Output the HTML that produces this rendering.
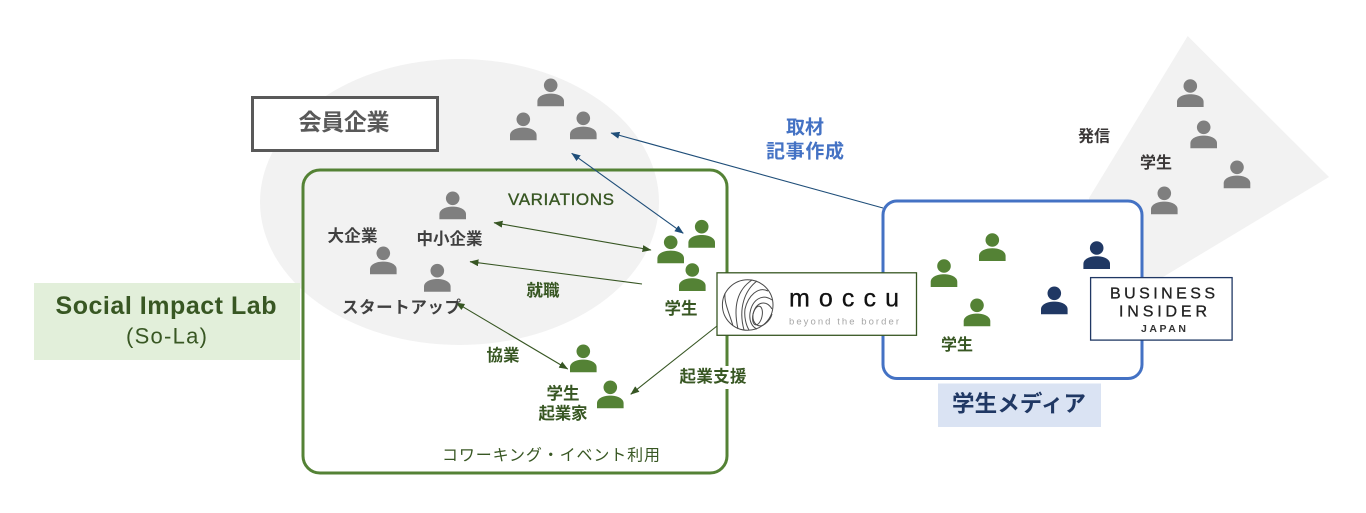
<!DOCTYPE html>
<html lang="ja">
<head>
<meta charset="utf-8">
<title>Social Impact Lab</title>
<style>
html,body{margin:0;padding:0;background:#fff;width:1366px;height:513px;overflow:hidden}
svg{display:block}
text{font-family:"Liberation Sans","Noto Sans CJK JP",sans-serif;text-anchor:middle;dominant-baseline:central}
.g{fill:#385723}
.k{fill:#404040}
.b{font-weight:bold}
</style>
</head>
<body>
<svg width="1366" height="513" viewBox="0 0 1366 513" xmlns="http://www.w3.org/2000/svg">
<defs>
<g id="p">
<circle cx="0" cy="0" r="6.8"/>
<path d="M-13.3 21V16C-13.3 11 -7 8.3 0 8.3C7 8.3 13.3 11 13.3 16V21Z"/>
</g>
<marker id="an" markerWidth="9" markerHeight="7" refX="8.5" refY="3.5" orient="auto-start-reverse" markerUnits="userSpaceOnUse"><path d="M0 0L9 3.5L0 7Z" fill="#1f4e79"/></marker>
<marker id="ag" markerWidth="9" markerHeight="7" refX="8.5" refY="3.5" orient="auto-start-reverse" markerUnits="userSpaceOnUse"><path d="M0 0L9 3.5L0 7Z" fill="#375623"/></marker>
</defs>

<rect width="1366" height="513" fill="#fff"/>

<!-- background shapes -->
<ellipse cx="459.5" cy="202" rx="199.5" ry="143" fill="#f2f2f2"/>
<polygon points="1187.7,36 1329,177 1163,277 1089,277 1089,198" fill="#f2f2f2"/>

<!-- Social Impact Lab label -->
<rect x="34" y="283" width="266" height="77" fill="#e2efda"/>
<text x="166" y="306" font-size="25" class="g b" textLength="221" lengthAdjust="spacing">Social Impact Lab</text>
<text x="166.5" y="336" font-size="22" class="g" textLength="81" lengthAdjust="spacing">(So-La)</text>

<!-- main boxes -->
<rect x="303" y="170" width="424" height="303" rx="17" fill="none" stroke="#548235" stroke-width="3"/>
<rect x="679" y="366" width="68" height="23" fill="#fff"/>
<rect x="252.5" y="97.5" width="185" height="53" fill="#fff" stroke="#595959" stroke-width="3"/>
<text x="344" y="122" font-size="23" fill="#595959" class="b" textLength="91" lengthAdjust="spacing">会員企業</text>
<line x1="883" y1="208" x2="611" y2="133" stroke="#1f4e79" stroke-width="1.1" marker-end="url(#an)"/>
<rect x="883" y="201" width="259" height="177.5" rx="14" fill="#fff" stroke="#4472c4" stroke-width="3"/>

<!-- connectors -->
<line x1="571.7" y1="153.3" x2="683.3" y2="233.3" stroke="#1f4e79" stroke-width="1.1" marker-start="url(#an)" marker-end="url(#an)"/>
<line x1="494" y1="222.7" x2="651" y2="250" stroke="#375623" stroke-width="1.1" marker-start="url(#ag)" marker-end="url(#ag)"/>
<line x1="642" y1="284" x2="470" y2="261.7" stroke="#375623" stroke-width="1.1" marker-end="url(#ag)"/>
<line x1="456" y1="302.7" x2="567.7" y2="369" stroke="#375623" stroke-width="1.1" marker-start="url(#ag)" marker-end="url(#ag)"/>
<line x1="717" y1="326" x2="630.7" y2="394.3" stroke="#375623" stroke-width="1.1" marker-end="url(#ag)"/>

<!-- gray people -->
<g fill="#7f7f7f">
<use href="#p" x="550.7" y="85.3"/>
<use href="#p" x="523.3" y="119.3"/>
<use href="#p" x="583.3" y="118.3"/>
<use href="#p" x="452.7" y="198.3"/>
<use href="#p" x="383.3" y="253.3"/>
<use href="#p" x="437.3" y="270.7"/>
<use href="#p" x="1190.3" y="86"/>
<use href="#p" x="1203.7" y="127.3"/>
<use href="#p" x="1237" y="167.3"/>
<use href="#p" x="1164.3" y="193.3"/>
</g>

<!-- green people -->
<g fill="#548235">
<use href="#p" x="670.7" y="242.3"/>
<use href="#p" x="701.7" y="226.7"/>
<use href="#p" x="692.3" y="270"/>
<use href="#p" x="583.3" y="351.3"/>
<use href="#p" x="610.3" y="387.3"/>
<use href="#p" x="992.3" y="240"/>
<use href="#p" x="944" y="266"/>
<use href="#p" x="977" y="305.3"/>
</g>

<!-- navy people -->
<g fill="#203864">
<use href="#p" x="1096.7" y="248"/>
<use href="#p" x="1054.3" y="293.3"/>
</g>

<!-- labels -->
<text x="561" y="199.5" font-size="17" class="g" stroke="#385723" stroke-width="0.35" textLength="106" lengthAdjust="spacing">VARIATIONS</text>
<text x="352.5" y="236.5" font-size="16.5" class="k b" textLength="50" lengthAdjust="spacing">大企業</text>
<text x="449.5" y="239.5" font-size="16.5" class="k b" textLength="66" lengthAdjust="spacing">中小企業</text>
<text x="401.5" y="308" font-size="16.5" class="k b" textLength="119" lengthAdjust="spacing">スタートアップ</text>
<text x="543" y="291" font-size="16.5" class="g b" textLength="33" lengthAdjust="spacing">就職</text>
<text x="681" y="309" font-size="16.5" class="g b" textLength="33" lengthAdjust="spacing">学生</text>
<text x="503" y="356" font-size="16.5" class="g b" textLength="33" lengthAdjust="spacing">協業</text>
<text x="563" y="394" font-size="16.5" class="g b" textLength="33" lengthAdjust="spacing">学生</text>
<text x="563" y="414" font-size="16.5" class="g b" textLength="49" lengthAdjust="spacing">起業家</text>
<text x="713" y="377" font-size="16.5" class="g b" textLength="67" lengthAdjust="spacing">起業支援</text>
<text x="551" y="456" font-size="16" class="g" textLength="218" lengthAdjust="spacing">コワーキング・イベント利用</text>
<text x="805" y="128" font-size="19" fill="#4472c4" class="b" textLength="38" lengthAdjust="spacing">取材</text>
<text x="805" y="152" font-size="19" fill="#4472c4" class="b" textLength="78" lengthAdjust="spacing">記事作成</text>
<text x="1094" y="137" font-size="16" fill="#3b3838" class="b" textLength="32" lengthAdjust="spacing">発信</text>
<text x="1156" y="163.5" font-size="16" fill="#3b3838" class="b" textLength="32" lengthAdjust="spacing">学生</text>
<text x="957" y="345.5" font-size="16" class="g b" textLength="32" lengthAdjust="spacing">学生</text>

<!-- student media label -->
<rect x="938" y="383.5" width="163" height="43.5" fill="#dae3f3"/>
<text x="1019" y="404" font-size="22.5" fill="#203864" class="b" textLength="134" lengthAdjust="spacing">学生メディア</text>

<!-- moccu logo -->
<rect x="717" y="272.8" width="199.5" height="62.5" fill="#fff" stroke="#385723" stroke-width="1.3"/>
<g fill="none" stroke="#4a4a4a" stroke-width="1">
<circle cx="747.7" cy="305" r="25.3"/>
<path d="M725 293C724 303 729 312 733 326"/>
<path d="M752 280C740 288 732 302 738 329"/>
<path d="M757 281C745 290 738 308 744 330"/>
<path d="M768 291C758 286 748 296 745 309C744 317 746 325 749 330"/>
<path d="M772 300C762 293 752 300 750 313C749 321 752 327 757 329"/>
<path d="M772 309C766 299 756 302 753 314C752 323 758 329 765 324C769 321 771 318 772 314"/>
<ellipse cx="757.5" cy="315.5" rx="4.6" ry="9.5" transform="rotate(12 757.5 315.5)"/>
</g>
<text x="844" y="306.7" font-size="25" fill="#111" stroke="#111" stroke-width="0.3" textLength="110" lengthAdjust="spacing" style="dominant-baseline:auto">moccu</text>
<text x="844" y="322" font-size="9.5" fill="#a6a6a6" textLength="110" lengthAdjust="spacing">beyond the border</text>

<!-- Business Insider logo -->
<rect x="1090.6" y="277.6" width="141.5" height="62.5" fill="#fff" stroke="#203864" stroke-width="1.3"/>
<text x="1162.5" y="294" font-size="16" fill="#222" stroke="#222" stroke-width="0.3" textLength="105" lengthAdjust="spacing">BUSINESS</text>
<text x="1163" y="312" font-size="16" fill="#222" stroke="#222" stroke-width="0.3" textLength="88" lengthAdjust="spacing">INSIDER</text>
<text x="1163.5" y="329" font-size="10.5" fill="#333" class="b" textLength="45" lengthAdjust="spacing">JAPAN</text>
</svg>
</body>
</html>
